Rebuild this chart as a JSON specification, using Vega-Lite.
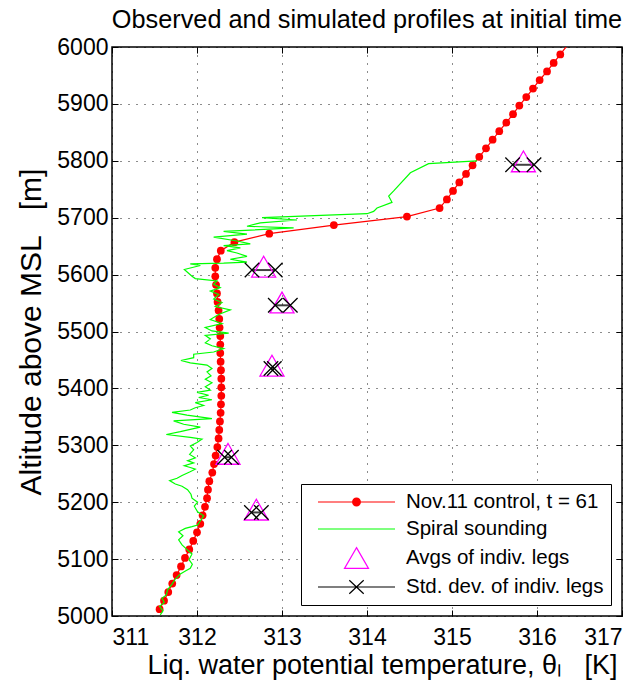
{
  "$schema": "https://vega.github.io/schema/vega-lite/v6.json",
  "width": 510,
  "height": 569,
  "autosize": "none",
  "padding": {"left": 112, "top": 47, "right": 22, "bottom": 67},
  "background": "white",
  "title": {
    "text": "Observed and simulated profiles at initial time",
    "font": "Liberation Sans",
    "fontSize": 25.3,
    "fontWeight": "normal",
    "color": "black",
    "anchor": "middle",
    "offset": 3
  },
  "config": {
    "view": {"stroke": "black", "strokeWidth": 1.5},
    "font": "Liberation Sans",
    "axis": {
      "domain": false,
      "labelFont": "Liberation Sans",
      "labelFontSize": 23,
      "labelColor": "black",
      "titleFont": "Liberation Sans",
      "titleFontSize": 28,
      "titleFontWeight": "normal",
      "titleColor": "black",
      "tickColor": "black",
      "tickSize": -6,
      "tickWidth": 1,
      "gridColor": "black",
      "gridDash": [1, 7],
      "gridWidth": 1,
      "gridOpacity": 0.9
    }
  },
  "datasets": {
    "model": [
      {"z": 5012, "T": 311.56}, {"z": 5027, "T": 311.612}, {"z": 5042, "T": 311.662}, {"z": 5057, "T": 311.709},
      {"z": 5072, "T": 311.76}, {"z": 5087, "T": 311.812}, {"z": 5102, "T": 311.859}, {"z": 5117, "T": 311.909},
      {"z": 5132, "T": 311.956}, {"z": 5147, "T": 312.0}, {"z": 5162, "T": 312.039}, {"z": 5177, "T": 312.066},
      {"z": 5192, "T": 312.094}, {"z": 5207, "T": 312.118}, {"z": 5222, "T": 312.129}, {"z": 5237, "T": 312.145},
      {"z": 5252, "T": 312.18}, {"z": 5267, "T": 312.2}, {"z": 5282, "T": 312.219}, {"z": 5297, "T": 312.239},
      {"z": 5312, "T": 312.254}, {"z": 5327, "T": 312.262}, {"z": 5342, "T": 312.27}, {"z": 5357, "T": 312.278},
      {"z": 5372, "T": 312.282}, {"z": 5387, "T": 312.286}, {"z": 5402, "T": 312.286}, {"z": 5417, "T": 312.286},
      {"z": 5432, "T": 312.282}, {"z": 5447, "T": 312.278}, {"z": 5462, "T": 312.274}, {"z": 5477, "T": 312.274},
      {"z": 5492, "T": 312.274}, {"z": 5507, "T": 312.266}, {"z": 5522, "T": 312.262}, {"z": 5537, "T": 312.254},
      {"z": 5552, "T": 312.242}, {"z": 5567, "T": 312.235}, {"z": 5582, "T": 312.224}, {"z": 5597, "T": 312.215},
      {"z": 5612, "T": 312.215}, {"z": 5627, "T": 312.235}, {"z": 5642, "T": 312.28}, {"z": 5657, "T": 312.44},
      {"z": 5672, "T": 312.85}, {"z": 5687, "T": 313.61}, {"z": 5702, "T": 314.47}, {"z": 5717, "T": 314.854},
      {"z": 5732, "T": 314.94}, {"z": 5747, "T": 315.012}, {"z": 5762, "T": 315.086}, {"z": 5777, "T": 315.165},
      {"z": 5792, "T": 315.242}, {"z": 5807, "T": 315.321}, {"z": 5822, "T": 315.4}, {"z": 5837, "T": 315.478},
      {"z": 5852, "T": 315.556}, {"z": 5867, "T": 315.639}, {"z": 5882, "T": 315.718}, {"z": 5897, "T": 315.792},
      {"z": 5912, "T": 315.874}, {"z": 5927, "T": 315.953}, {"z": 5942, "T": 316.031}, {"z": 5957, "T": 316.118},
      {"z": 5972, "T": 316.196}, {"z": 5987, "T": 316.274}, {"z": 6002, "T": 316.352}
    ],
    "sounding": [
      {"i": 1, "z": 5002, "T": 311.568}, {"i": 2, "z": 5009, "T": 311.6}, {"i": 3, "z": 5017, "T": 311.56},
      {"i": 4, "z": 5024, "T": 311.615}, {"i": 5, "z": 5031, "T": 311.588}, {"i": 6, "z": 5037, "T": 311.639},
      {"i": 7, "z": 5046, "T": 311.654}, {"i": 8, "z": 5056, "T": 311.706}, {"i": 9, "z": 5065, "T": 311.745},
      {"i": 10, "z": 5074, "T": 311.804}, {"i": 11, "z": 5080, "T": 311.874}, {"i": 12, "z": 5084, "T": 311.921},
      {"i": 13, "z": 5091, "T": 311.945}, {"i": 14, "z": 5099, "T": 311.906}, {"i": 15, "z": 5109, "T": 311.941},
      {"i": 16, "z": 5118, "T": 311.874}, {"i": 17, "z": 5125, "T": 311.824}, {"i": 18, "z": 5134, "T": 311.784},
      {"i": 19, "z": 5141, "T": 311.835}, {"i": 20, "z": 5148, "T": 311.784}, {"i": 21, "z": 5154, "T": 311.862},
      {"i": 22, "z": 5157, "T": 311.941}, {"i": 23, "z": 5160, "T": 312.007}, {"i": 24, "z": 5167, "T": 312.039},
      {"i": 25, "z": 5176, "T": 312.078}, {"i": 26, "z": 5183, "T": 312.007}, {"i": 27, "z": 5193, "T": 311.968},
      {"i": 28, "z": 5200, "T": 312.007}, {"i": 29, "z": 5207, "T": 311.941}, {"i": 30, "z": 5214, "T": 311.929},
      {"i": 31, "z": 5222, "T": 311.889}, {"i": 32, "z": 5228, "T": 311.824}, {"i": 33, "z": 5232, "T": 311.745},
      {"i": 34, "z": 5238, "T": 311.678}, {"i": 35, "z": 5242, "T": 311.765}, {"i": 36, "z": 5247, "T": 311.824},
      {"i": 37, "z": 5253, "T": 311.913}, {"i": 38, "z": 5258, "T": 311.98}, {"i": 39, "z": 5261, "T": 311.921},
      {"i": 40, "z": 5264, "T": 311.851}, {"i": 41, "z": 5269, "T": 311.961}, {"i": 42, "z": 5273, "T": 311.89},
      {"i": 43, "z": 5278, "T": 311.98}, {"i": 44, "z": 5284, "T": 311.913}, {"i": 45, "z": 5292, "T": 311.961},
      {"i": 46, "z": 5299, "T": 311.921}, {"i": 47, "z": 5305, "T": 312.0}, {"i": 48, "z": 5311, "T": 312.059},
      {"i": 49, "z": 5314, "T": 311.921}, {"i": 50, "z": 5319, "T": 311.639}, {"i": 51, "z": 5324, "T": 311.804},
      {"i": 52, "z": 5328, "T": 311.921}, {"i": 53, "z": 5332, "T": 312.039}, {"i": 54, "z": 5337, "T": 311.843},
      {"i": 55, "z": 5343, "T": 311.725}, {"i": 56, "z": 5347, "T": 312.176}, {"i": 57, "z": 5353, "T": 311.882},
      {"i": 58, "z": 5358, "T": 311.706}, {"i": 59, "z": 5362, "T": 311.921}, {"i": 60, "z": 5366, "T": 311.98},
      {"i": 61, "z": 5370, "T": 312.078}, {"i": 62, "z": 5375, "T": 311.98}, {"i": 63, "z": 5380, "T": 312.176},
      {"i": 64, "z": 5384, "T": 312.02}, {"i": 65, "z": 5388, "T": 312.137}, {"i": 66, "z": 5393, "T": 312.0},
      {"i": 67, "z": 5397, "T": 312.157}, {"i": 68, "z": 5403, "T": 312.098}, {"i": 69, "z": 5410, "T": 312.176},
      {"i": 70, "z": 5416, "T": 312.098}, {"i": 71, "z": 5422, "T": 312.165}, {"i": 72, "z": 5429, "T": 312.118},
      {"i": 73, "z": 5435, "T": 312.176}, {"i": 74, "z": 5441, "T": 312.118}, {"i": 75, "z": 5445, "T": 311.921},
      {"i": 76, "z": 5449, "T": 311.811}, {"i": 77, "z": 5454, "T": 311.961}, {"i": 78, "z": 5460, "T": 311.961},
      {"i": 79, "z": 5464, "T": 312.196}, {"i": 80, "z": 5470, "T": 312.314}, {"i": 81, "z": 5475, "T": 312.176},
      {"i": 82, "z": 5480, "T": 312.098}, {"i": 83, "z": 5487, "T": 312.157}, {"i": 84, "z": 5493, "T": 312.098},
      {"i": 85, "z": 5497, "T": 312.373}, {"i": 86, "z": 5501, "T": 312.176}, {"i": 87, "z": 5507, "T": 312.097},
      {"i": 88, "z": 5514, "T": 312.294}, {"i": 89, "z": 5521, "T": 312.156}, {"i": 90, "z": 5530, "T": 312.254},
      {"i": 91, "z": 5538, "T": 312.392}, {"i": 92, "z": 5544, "T": 312.215}, {"i": 93, "z": 5551, "T": 312.294},
      {"i": 94, "z": 5557, "T": 312.196}, {"i": 95, "z": 5565, "T": 312.255}, {"i": 96, "z": 5571, "T": 312.157},
      {"i": 97, "z": 5577, "T": 312.274}, {"i": 98, "z": 5583, "T": 312.196}, {"i": 99, "z": 5589, "T": 312.235},
      {"i": 100, "z": 5593, "T": 311.98}, {"i": 101, "z": 5597, "T": 311.941}, {"i": 102, "z": 5609, "T": 311.851},
      {"i": 103, "z": 5616, "T": 312.039}, {"i": 104, "z": 5619, "T": 311.921}, {"i": 105, "z": 5620, "T": 312.313},
      {"i": 106, "z": 5622, "T": 312.588}, {"i": 107, "z": 5627, "T": 312.392}, {"i": 108, "z": 5632, "T": 312.588},
      {"i": 109, "z": 5638, "T": 312.47}, {"i": 110, "z": 5642, "T": 312.353}, {"i": 111, "z": 5647, "T": 312.51},
      {"i": 112, "z": 5651, "T": 312.313}, {"i": 113, "z": 5654, "T": 312.627}, {"i": 114, "z": 5659, "T": 312.47},
      {"i": 115, "z": 5666, "T": 312.196}, {"i": 116, "z": 5671, "T": 312.588}, {"i": 117, "z": 5676, "T": 312.313},
      {"i": 118, "z": 5682, "T": 313.137}, {"i": 119, "z": 5685, "T": 312.588}, {"i": 120, "z": 5691, "T": 312.745},
      {"i": 121, "z": 5696, "T": 313.176}, {"i": 122, "z": 5700, "T": 312.765}, {"i": 123, "z": 5707, "T": 314.0},
      {"i": 124, "z": 5711, "T": 314.078}, {"i": 125, "z": 5717, "T": 314.118}, {"i": 126, "z": 5727, "T": 314.294},
      {"i": 127, "z": 5738, "T": 314.255}, {"i": 128, "z": 5747, "T": 314.314}, {"i": 129, "z": 5779, "T": 314.51},
      {"i": 130, "z": 5795, "T": 314.725}, {"i": 131, "z": 5800, "T": 315.294}
    ],
    "legs": [
      {"avg_T": 315.84, "avg_z": 5799, "sd_lo": 315.713, "sd_hi": 315.965, "sd_z": 5793},
      {"avg_T": 312.784, "avg_z": 5614, "sd_lo": 312.647, "sd_hi": 312.921, "sd_z": 5608},
      {"avg_T": 313.0, "avg_z": 5551, "sd_lo": 312.921, "sd_hi": 313.098, "sd_z": 5546},
      {"avg_T": 312.882, "avg_z": 5440, "sd_lo": 312.87, "sd_hi": 312.91, "sd_z": 5435},
      {"avg_T": 312.365, "avg_z": 5285, "sd_lo": 312.325, "sd_hi": 312.405, "sd_z": 5279},
      {"avg_T": 312.698, "avg_z": 5187, "sd_lo": 312.64, "sd_hi": 312.757, "sd_z": 5182}
    ],
    "legendrows": [
      {"series": "Nov.11 control, t = 61"},
      {"series": "Spiral sounding"},
      {"series": "Avgs of indiv. legs"},
      {"series": "Std. dev. of indiv. legs"}
    ]
  },
  "layer": [
    {
      "data": {"name": "model"},
      "mark": {"type": "line", "color": "#ff0000", "strokeWidth": 1.2, "clip": true},
      "encoding": {
        "x": {
          "field": "T", "type": "quantitative",
          "scale": {"domain": [311, 317], "nice": false, "zero": false},
          "axis": {"orient": "bottom", "values": [311, 312, 313, 314, 315, 316, 317], "format": "d", "grid": true, "labelPadding": 16, "titlePadding": 3, "titleX": 270, "titleFontSize": 27,
                   "title": "Liq. water potential temperature, θₗ\u00a0\u00a0\u00a0[K]"}
        },
        "y": {
          "field": "z", "type": "quantitative",
          "scale": {"domain": [5000, 6000], "nice": false, "zero": false},
          "axis": {"orient": "left", "values": [5000, 5100, 5200, 5300, 5400, 5500, 5600, 5700, 5800, 5900, 6000], "format": "d", "grid": true, "labelPadding": 10, "titlePadding": 10, "titleFontSize": 30,
                   "title": "Altitude above MSL\u00a0\u00a0\u00a0[m]"}
        },
        "order": {"field": "z", "type": "quantitative"}
      }
    },
    {
      "data": {"name": "model"},
      "transform": [{"filter": "datum.z < 6000"}],
      "mark": {"type": "circle", "color": "#ff0000", "size": 60, "opacity": 1},
      "encoding": {
        "x": {"field": "T", "type": "quantitative", "axis": null},
        "y": {"field": "z", "type": "quantitative", "axis": null}
      }
    },
    {
      "data": {"name": "sounding"},
      "mark": {"type": "line", "color": "#00ff00", "strokeWidth": 1.2, "clip": true},
      "encoding": {
        "x": {"field": "T", "type": "quantitative",
              "axis": {"orient": "top", "values": [311, 312, 313, 314, 315, 316, 317], "labels": false, "grid": false, "title": null}},
        "y": {"field": "z", "type": "quantitative",
              "axis": {"orient": "right", "values": [5000, 5100, 5200, 5300, 5400, 5500, 5600, 5700, 5800, 5900, 6000], "labels": false, "grid": false, "title": null}},
        "order": {"field": "i", "type": "quantitative"}
      }
    },
    {
      "data": {"name": "legs"},
      "mark": {"type": "rule", "color": "#000000", "strokeWidth": 2, "opacity": 0.75},
      "encoding": {
        "x": {"field": "sd_lo", "type": "quantitative", "axis": null},
        "x2": {"field": "sd_hi"},
        "y": {"field": "sd_z", "type": "quantitative", "axis": null}
      }
    },
    {
      "data": {"name": "legs"},
      "mark": {"type": "point", "shape": "triangle-up", "size": 576, "filled": false, "color": "#ff00ff", "strokeWidth": 1.3, "opacity": 1},
      "encoding": {
        "x": {"field": "avg_T", "type": "quantitative", "axis": null},
        "y": {"field": "avg_z", "type": "quantitative", "axis": null}
      }
    },
    {
      "data": {"name": "legs"},
      "transform": [{"fold": ["sd_lo", "sd_hi"], "as": ["which", "sdT"]}],
      "mark": {"type": "point", "shape": "M-1,-1L1,1M-1,1L1,-1", "size": 210, "filled": false, "color": "#000000", "strokeWidth": 1.3, "opacity": 1},
      "encoding": {
        "x": {"field": "sdT", "type": "quantitative", "axis": null},
        "y": {"field": "sd_z", "type": "quantitative", "axis": null}
      }
    },
    {
      "data": {"name": "legendrows"},
      "mark": {"type": "point", "filled": false, "opacity": 0, "strokeWidth": 1.2},
      "encoding": {
        "color": {
          "field": "series", "type": "nominal",
          "scale": {"domain": ["Nov.11 control, t = 61", "Spiral sounding", "Avgs of indiv. legs", "Std. dev. of indiv. legs"],
                    "range": ["#ff0000", "#00ff00", "#ff00ff", "#000000"]},
          "legend": {
            "title": null, "orient": "bottom-right", "offset": 11,
            "symbolSize": 400, "symbolStrokeWidth": 1.2, "symbolOffset": 37.5,
            "labelFont": "Liberation Sans", "labelFontSize": 20.5, "labelColor": "black", "labelOffset": 38.5, "labelLimit": 400,
            "strokeColor": "black", "fillColor": "white", "padding": 7, "rowPadding": 5, "cornerRadius": 0,
            "encode": {"symbols": {"update": {"opacity": {"value": 1}}}}
          }
        },
        "shape": {
          "field": "series", "type": "nominal",
          "scale": {"domain": ["Nov.11 control, t = 61", "Spiral sounding", "Avgs of indiv. legs", "Std. dev. of indiv. legs"],
                    "range": [
                      "M-3.85,0L3.85,0M0.385,0A0.385,0.385,0,1,1,-0.385,0A0.385,0.385,0,1,1,0.385,0M0.28,0A0.28,0.28,0,1,1,-0.28,0A0.28,0.28,0,1,1,0.28,0M0.17,0A0.17,0.17,0,1,1,-0.17,0A0.17,0.17,0,1,1,0.17,0M0.07,0A0.07,0.07,0,1,1,-0.07,0A0.07,0.07,0,1,1,0.07,0",
                      "M-3.85,0L3.85,0",
                      "M0,-1.04L1.2,1.04L-1.2,1.04Z",
                      "M-3.85,0L3.85,0M-0.72,-0.68L0.72,0.68M-0.72,0.68L0.72,-0.68"
                    ]},
          "legend": {
            "title": null, "orient": "bottom-right", "offset": 11,
            "symbolSize": 400, "symbolStrokeWidth": 1.2, "symbolOffset": 37.5,
            "labelFont": "Liberation Sans", "labelFontSize": 20.5, "labelColor": "black", "labelOffset": 38.5, "labelLimit": 400,
            "strokeColor": "black", "fillColor": "white", "padding": 7, "rowPadding": 5, "cornerRadius": 0,
            "encode": {"symbols": {"update": {"opacity": {"value": 1}}}}
          }
        }
      }
    }
  ],
  "resolve": {"axis": {"x": "independent", "y": "independent"}}
}
